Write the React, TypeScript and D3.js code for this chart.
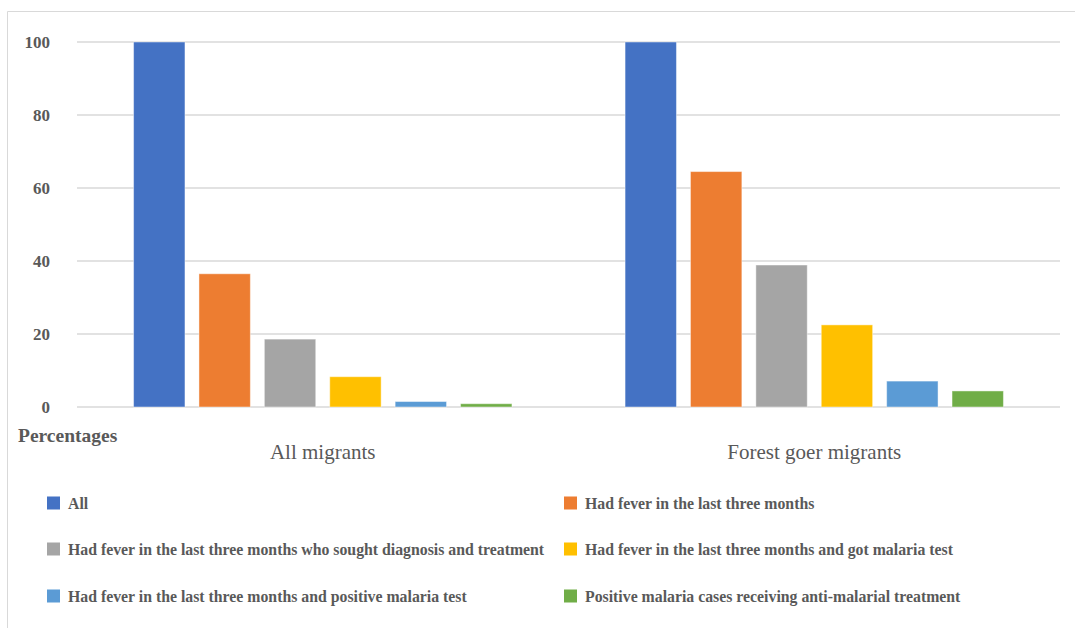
import React from "react";
import * as d3 from "d3";

// Groups along the x axis
const categories = ["All migrants", "Forest goer migrants"];

// One series per care-cascade step
const seriesNames = [
  "All",
  "Had fever in the last three months",
  "Had fever in the last three months who sought diagnosis and treatment",
  "Had fever in the last three months and got malaria test",
  "Had fever in the last three months and positive malaria test",
  "Positive malaria cases receiving anti-malarial treatment",
];

const seriesColors = ["#4472C4", "#ED7D31", "#A5A5A5", "#FFC000", "#5B9BD5", "#70AD47"];

// Percentages, one array per group, in series order
const allMigrantsValues = [100, 36.5, 18.6, 8.3, 1.5, 0.9];
const forestGoerValues = [100, 64.5, 38.9, 22.5, 7.1, 4.4];

const yTicks = [0, 20, 40, 60, 80, 100];

const W = 1075;
const H = 628;
const plot = { left: 77, right: 1060, top: 42, bottom: 407 };
const serif = "'Liberation Serif', 'Times New Roman', serif";
const textGrey = "#595959";

export default function App() {
  const groupValues = [allMigrantsValues, forestGoerValues];

  const y = d3.scaleLinear().domain([0, 100]).range([plot.bottom, plot.top]);
  const x0 = d3.scaleBand<string>().domain(categories).range([plot.left, plot.right]).padding(0);
  const x1 = d3
    .scaleBand<number>()
    .domain(d3.range(seriesNames.length))
    .range([0, x0.bandwidth()])
    .paddingInner(0.214)
    .paddingOuter(0.865);

  // Legend laid out in two columns, filled row by row
  const legendCols = [47, 564];
  const legendRows = [503, 549, 596];
  const sq = 13;

  return (
    <svg
      width={W}
      height={H}
      style={{ position: "fixed", left: 0, top: 0, background: "#fff" }}
      fontFamily={serif}
    >
      <rect x={0} y={0} width={W} height={H} fill="#fff" />
      {/* chart frame */}
      <path d={`M7.5,${H} V11.5 H${W}`} fill="none" stroke="#D9D9D9" strokeWidth={1} />

      {/* gridlines and y tick labels */}
      {yTicks.map((t) => (
        <g key={t}>
          <line x1={plot.left} x2={plot.right} y1={y(t)} y2={y(t)} stroke="#D9D9D9" strokeWidth={1.5} />
          <text
            x={50}
            y={y(t)}
            dy="0.35em"
            textAnchor="end"
            fontSize={17}
            fontWeight="bold"
            fill={textGrey}
          >
            {t}
          </text>
        </g>
      ))}

      {/* bars */}
      {categories.map((c, ci) => (
        <g key={c} transform={`translate(${x0(c)},0)`}>
          {groupValues[ci].map((v, si) => (
            <rect
              key={si}
              x={x1(si)}
              y={y(v)}
              width={x1.bandwidth()}
              height={y(0) - y(v)}
              fill={seriesColors[si]}
              stroke="#ffffff"
              strokeOpacity={0.45}
              strokeWidth={1}
            />
          ))}
        </g>
      ))}

      {/* category labels */}
      {categories.map((c) => (
        <text
          key={c}
          x={(x0(c) as number) + x0.bandwidth() / 2}
          y={452}
          dy="0.35em"
          textAnchor="middle"
          fontSize={21}
          fill={textGrey}
        >
          {c}
        </text>
      ))}

      {/* axis title */}
      <text x={18} y={435} dy="0.35em" fontSize={19.5} fontWeight="bold" fill={textGrey}>
        Percentages
      </text>

      {/* legend */}
      {seriesNames.map((name, i) => {
        const lx = legendCols[i % 2];
        const ly = legendRows[Math.floor(i / 2)];
        return (
          <g key={name}>
            <rect x={lx} y={ly - sq / 2} width={sq} height={sq} fill={seriesColors[i]} />
            <text
              x={lx + 21}
              y={ly}
              dy="0.35em"
              fontSize={15.8}
              fontWeight="bold"
              fill={textGrey}
            >
              {name}
            </text>
          </g>
        );
      })}
    </svg>
  );
}
